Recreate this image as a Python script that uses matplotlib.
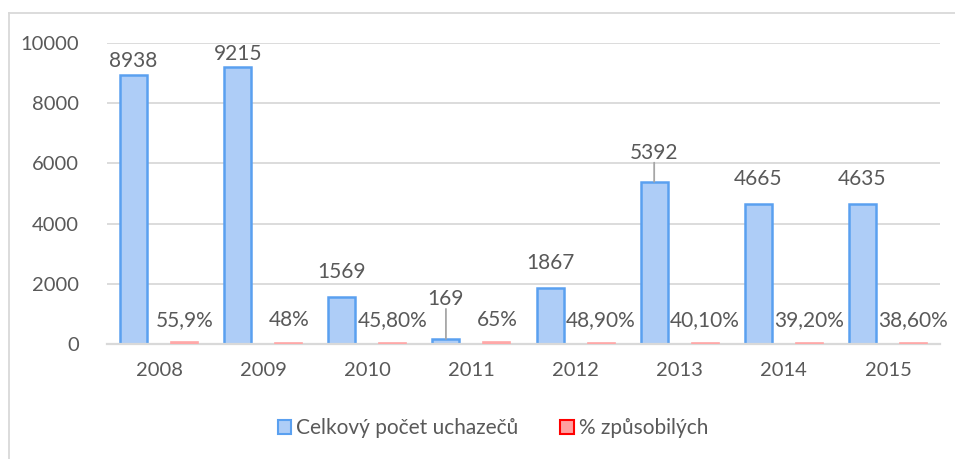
import matplotlib
matplotlib.use("Agg")
import matplotlib.pyplot as plt
from matplotlib.lines import Line2D
import numpy as np

years = ["2008", "2009", "2010", "2011", "2012", "2013", "2014", "2015"]
applicants = [8938, 9215, 1569, 169, 1867, 5392, 4665, 4635]
pct_values = [55.9, 48, 45.8, 65, 48.9, 40.1, 39.2, 38.6]
pct_labels = ["55,9%", "48%", "45,80%", "65%", "48,90%", "40,10%", "39,20%", "38,60%"]
series_names = ["Celkový počet uchazečů", "% způsobilých"]

# label offsets in pixels above bar top (style only)
blue_off_px = [14, 12.5, 25, 40, 25, 29, 25, 25]
leader = [False, False, False, True, False, True, False, False]
red_off_px = 24

plt.rcParams['font.family'] = ['Lato', 'DejaVu Sans']
DPI = 100
W, H = 955, 459
fig = plt.figure(figsize=(W / DPI, H / DPI), dpi=DPI)
fig.patch.set_facecolor("white")

ax = fig.add_axes([107 / W, 1 - 344 / H, (940 - 107) / W, (344 - 43) / H])
text_col = "#595959"
grid_col = "#d9d9d9"

x = np.arange(len(years))
bw = 0.26
off = 0.245
ax.bar(x - off, applicants, width=bw, color="#aecdf7", edgecolor="#5aa0f0",
       linewidth=1.8, zorder=3, label=series_names[0])
ax.bar(x + off, pct_values, width=bw, color="#ffa8a8", edgecolor="#ffa8a8",
       linewidth=1.2, zorder=6, label=series_names[1])

ax.set_ylim(0, 10000)
ax.set_xlim(-0.5, len(years) - 0.5)
ax.set_yticks(range(0, 10001, 2000))
ax.set_xticks(x)
ax.set_xticklabels(years)
ax.yaxis.grid(True, color=grid_col, linewidth=1.3, zorder=0)
ax.set_axisbelow(True)
for s in ["top", "right", "left"]:
    ax.spines[s].set_visible(False)
ax.spines["bottom"].set_color(grid_col)
ax.spines["bottom"].set_linewidth(1.6)
ax.spines["bottom"].set_zorder(4)
ax.tick_params(axis="both", length=0, labelsize=14.5, colors=text_col)
ax.tick_params(axis="y", pad=20)
ax.tick_params(axis="x", pad=13)

px2pt = 72 / DPI
for i, v in enumerate(applicants):
    oy = blue_off_px[i]
    ax.annotate(str(v), xy=(x[i] - off, v), xytext=(0, oy * px2pt),
                textcoords="offset points", ha="center", va="center",
                fontsize=15, color=text_col, zorder=5)
    if leader[i]:
        ax.annotate("", xy=(x[i] - off, v), xytext=(0, (oy - 10) * px2pt),
                    textcoords="offset points",
                    arrowprops=dict(arrowstyle="-", color="#a6a6a6", lw=1.3,
                                    shrinkA=0, shrinkB=0), zorder=5)
for i, v in enumerate(pct_values):
    ax.annotate(pct_labels[i], xy=(x[i] + off, 0), xytext=(0, red_off_px * px2pt),
                textcoords="offset points", ha="center", va="center",
                fontsize=15, color=text_col, zorder=5)

handles = [
    plt.Rectangle((0, 0), 1, 1, facecolor="#aecdf7", edgecolor="#5aa0f0", linewidth=1.5),
    plt.Rectangle((0, 0), 1, 1, facecolor="#ffa0a0", edgecolor="#ff0000", linewidth=1.5),
]
leg = fig.legend(handles, series_names, loc="center", bbox_to_anchor=(493 / W, 1 - 428 / H),
                 ncol=2, frameon=False, fontsize=15, handlelength=0.65, handleheight=0.65,
                 handletextpad=0.25, columnspacing=2.0, labelcolor=text_col)

# outer chart border
fig.add_artist(Line2D([8.5 / W, 1.0], [1 - 13 / H, 1 - 13 / H], color=grid_col,
                      linewidth=1.3, transform=fig.transFigure))
fig.add_artist(Line2D([8.5 / W, 8.5 / W], [0, 1 - 13 / H], color=grid_col,
                      linewidth=1.3, transform=fig.transFigure))

fig.savefig("out.png", dpi=DPI, facecolor="white")
